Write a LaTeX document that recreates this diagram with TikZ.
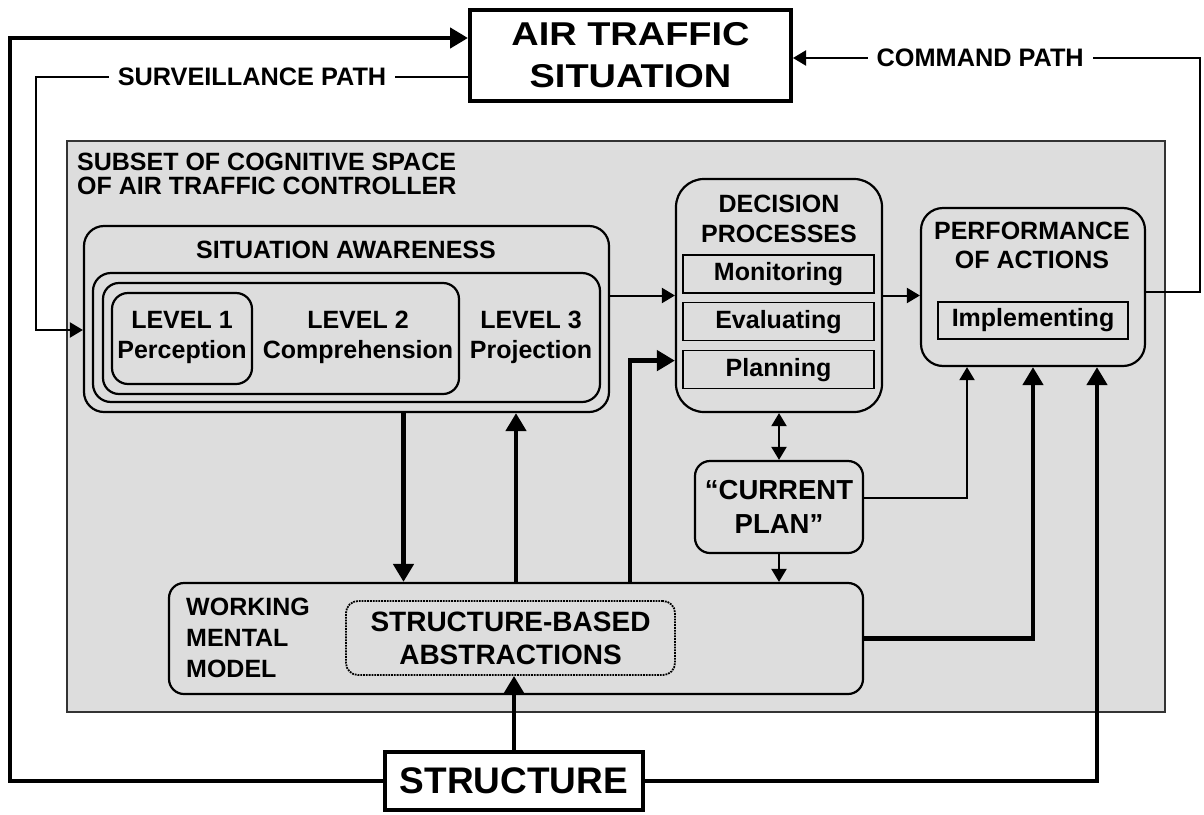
\documentclass[tikz,border=0pt]{standalone}
\usepackage{fontspec}
\setmainfont{Liberation Sans}
\newfontfamily\widesans[FakeStretch=1.15]{Liberation Sans}
\usetikzlibrary{arrows.meta,calc,positioning}
\definecolor{spaceColor}{RGB}{221,221,221}
\tikzset{plainbox/.style={draw, line width=4pt, fill=white, align=center, font=\bfseries\fontsize{37}{42}\selectfont}}
\tikzset{stage/.style={draw, line width=2.2pt, rounded corners=18pt, fill=spaceColor, align=center}}
\tikzset{subtask/.style={draw, line width=1.3pt, fill=spaceColor, minimum width=191pt, minimum height=38pt, font=\bfseries\fontsize{25}{28}\selectfont}}
\tikzset{boldtext/.style={align=center, inner sep=0pt, font=\bfseries\fontsize{25}{30}\selectfont}}
\tikzset{pathtext/.style={fill=white, inner xsep=9pt, inner ysep=2pt, font=\bfseries\fontsize{25.3}{28}\selectfont}}
\tikzset{bigarrow/.style={line width=4.5pt, -{Triangle[length=18pt,width=20pt]}}}
\tikzset{smallarrow/.style={line width=2pt, -{Triangle[length=13pt,width=15pt]}}}

\begin{document}
\begin{tikzpicture}[x=1pt, y=-1pt]
\fill[white] (0,0) rectangle (1204,814);
% Nodes
\node (CognitiveSpace) [draw=black!80, line width=1.3pt, fill=spaceColor, minimum width=1098pt, minimum height=571pt] at (616,426.5) {};
\node (SpaceLabel) [anchor=north west, inner sep=0pt, align=left, font=\bfseries\fontsize{25}{23.5}\selectfont] at (77,153) {SUBSET OF COGNITIVE SPACE\\OF AIR TRAFFIC CONTROLLER};

\node (AirTraffic) [plainbox, minimum width=321pt, minimum height=91pt, font=\widesans\bfseries\fontsize{33}{42}\selectfont] at (630.5,55.5) {AIR TRAFFIC\\SITUATION};
\node (Structure) [plainbox, minimum width=258pt, minimum height=58pt] at (514,781) {STRUCTURE};

\node (SituationAwareness) [stage, rounded corners=20pt, minimum width=525pt, minimum height=186pt] at (346.5,319) {};
\node (SALabel) [boldtext] at (346,250) {SITUATION AWARENESS};
\node (LevelThree) [stage, minimum width=507pt, minimum height=129pt] at (346.5,337.5) {};
\node (LevelTwo) [stage, rounded corners=16pt, minimum width=356pt, minimum height=111pt] at (281,338.5) {};
\node (LevelOne) [stage, rounded corners=16pt, minimum width=140pt, minimum height=91pt] at (182,338.5) {};
\node (PerceptionText) [boldtext] at (182,337) {LEVEL 1\\Perception};
\node (ComprehensionText) [boldtext] at (358,337) {LEVEL 2\\Comprehension};
\node (ProjectionText) [boldtext] at (531,337) {LEVEL 3\\Projection};

\node (Decision) [stage, rounded corners=28pt, minimum width=206pt, minimum height=233pt] at (779,295.5) {};
\node (DecisionText) [boldtext] at (779,219) {DECISION\\PROCESSES};
\node (Monitoring) [subtask] at (778.5,274) {Monitoring};
\node (Evaluating) [subtask, below=8.5pt of Monitoring] {Evaluating};
\node (Planning) [subtask, below=8.5pt of Evaluating] {Planning};

\node (Performance) [stage, rounded corners=22pt, minimum width=224pt, minimum height=158pt] at (1033,287) {};
\node (PerformanceText) [boldtext, font=\bfseries\fontsize{25}{29}\selectfont] at (1032,245) {PERFORMANCE\\OF ACTIONS};
\node (Implementing) [subtask, minimum width=190pt, minimum height=37pt] at (1033,320.5) {Implementing};

\node (CurrentPlan) [stage, rounded corners=15pt, minimum width=168pt, minimum height=92pt, font=\bfseries\fontsize{27.5}{34}\selectfont] at (779,507) {“CURRENT\\PLAN”};

\node (WorkingModel) [stage, rounded corners=15pt, minimum width=694pt, minimum height=111pt] at (516,638.5) {};
\node (WorkingText) [anchor=north west, inner sep=0pt, align=left, font=\bfseries\fontsize{25}{31}\selectfont] at (186,598) {WORKING\\MENTAL\\MODEL};
\node (Abstractions) [draw, densely dotted, line width=1.8pt, rounded corners=12pt, minimum width=329pt, minimum height=74pt, align=center, font=\bfseries\fontsize{28}{33}\selectfont] at (510.5,638) {STRUCTURE-BASED\\ABSTRACTIONS};

% Connectors
\coordinate (OuterCorner) at (10,38);
\coordinate (SurveillanceTop) at (36,77);
\coordinate (SurveillanceBottom) at (36,330);
\coordinate (CommandTop) at (1200,58);
\coordinate (CommandBottom) at (1200,292);

\draw [bigarrow] (Structure.west) -| (OuterCorner) -- (OuterCorner -| AirTraffic.west);
\draw [smallarrow] (SurveillanceTop -| AirTraffic.west) -- node[pathtext] {SURVEILLANCE PATH} (SurveillanceTop) -- (SurveillanceBottom) -- (SurveillanceBottom -| SituationAwareness.west);
\draw [smallarrow] (CommandBottom -| Performance.east) -- (CommandBottom) -- (CommandTop) -- node[pathtext, pos=0.54] {COMMAND PATH} (CommandTop -| AirTraffic.east);

\draw [smallarrow] (SituationAwareness.east |- Decision.west) -- (Decision.west);
\draw [smallarrow] (Decision.east) -- (Decision.east -| Performance.west);
\draw [smallarrow, {Triangle[length=13pt,width=15pt]}-{Triangle[length=13pt,width=15pt]}] (Decision.south) -- (CurrentPlan.north);
\draw [smallarrow] (CurrentPlan.south) -- (CurrentPlan.south |- WorkingModel.north);
\draw [smallarrow] ([yshift=9pt]CurrentPlan.east) -| ([xshift=-66pt]Performance.south);

\draw [bigarrow] ([xshift=57pt]SituationAwareness.south) -- ([xshift=57pt]SituationAwareness.south |- WorkingModel.north);
\draw [bigarrow] (WorkingModel.north) -- (WorkingModel.north |- SituationAwareness.south);
\draw [bigarrow] ([xshift=114pt]WorkingModel.north) |- ([yshift=9pt]Planning.west -| Decision.west);
\draw [bigarrow] (WorkingModel.east) -| (Performance.south);
\draw [bigarrow] (Structure.east) -| ([xshift=64pt]Performance.south);
\draw [bigarrow] (Structure.north) -- (Structure.north |- Abstractions.south);

\end{tikzpicture}
\end{document}
